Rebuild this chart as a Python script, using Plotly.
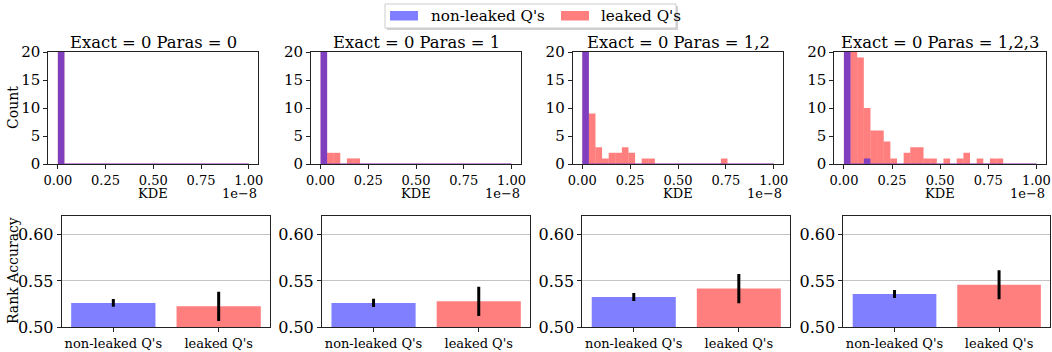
import numpy as np
import plotly.graph_objects as go

W, H = 1052, 352

# ---------------- data ----------------
titles = ["Exact = 0 Paras = 0", "Exact = 0 Paras = 1",
          "Exact = 0 Paras = 1,2", "Exact = 0 Paras = 1,2,3"]
n_bins = 29  # histogram bins over [0, 1] (x 1e-8)

nonleaked_p0 = [150] + [0] * 28
nonleaked_p1 = [150] + [0] * 28
nonleaked_p2 = [150] + [0] * 28
nonleaked_p3 = [150, 0, 0, 1] + [0] * 25

leaked_p0 = [30] + [0] * 28
leaked_p1 = [30, 2, 2, 0, 1, 1] + [0] * 23
leaked_p2 = [30, 9, 3, 1, 2, 2, 3, 2, 0, 1, 1] + [0] * 10 + [1] + [0] * 7
leaked_p3 = [30, 25, 19, 10, 6, 6, 4, 1, 0, 2, 3, 3, 1, 1, 0, 1, 0, 1, 2,
             0, 1, 0, 1, 1, 0, 0, 0, 0, 0]

nonleaked_hist = [nonleaked_p0, nonleaked_p1, nonleaked_p2, nonleaked_p3]
leaked_hist = [leaked_p0, leaked_p1, leaked_p2, leaked_p3]

categories = ["non-leaked Q's", "leaked Q's"]
acc_nonleaked = [0.5263, 0.5263, 0.5327, 0.5360]
acc_nonleaked_err = [0.0042, 0.0045, 0.0044, 0.0043]
acc_leaked = [0.5227, 0.5280, 0.5418, 0.5459]
acc_leaked_err = [0.0158, 0.0157, 0.0158, 0.0157]

x_ticks = [0, 0.25, 0.5, 0.75, 1.0]
count_ticks = [0, 5, 10, 15, 20]
acc_ticks = [0.50, 0.55, 0.60]

# ---------------- style ----------------
BLUE = "rgba(0,0,255,0.5)"
RED = "rgba(255,0,0,0.5)"
FONT = "DejaVu Serif"

top_x_px = [(48.3, 258.3), (311.0, 521.0), (572.7, 783.3), (834.3, 1046.0)]
bot_x_px = [(61.7, 270.3), (322.0, 530.3), (582.3, 790.3), (843.3, 1050.3)]
top_y_px = (52.0, 164.0)
bot_y_px = (215.7, 327.3)


def fx(p):
    return p / W


def fy(p):
    return 1 - p / H


edges = np.linspace(0, 1, n_bins + 1)
centers = (edges[:-1] + edges[1:]) / 2
bw = edges[1] - edges[0]

fig = go.Figure()
layout = dict(
    width=W, height=H, margin=dict(l=0, r=0, t=0, b=0, autoexpand=False),
    paper_bgcolor="white", plot_bgcolor="white",
    barmode="overlay", showlegend=False,
    font=dict(family=FONT, color="black"),
)

annotations = []
shapes = []

axis_common = dict(showline=True, mirror=True, linecolor="#222", linewidth=1,
                   ticks="outside", ticklen=4, tickwidth=1, tickcolor="#222",
                   zeroline=False, automargin=False)

for i in range(4):
    xa = f"x{2*i+1}"
    ya = f"y{2*i+1}"
    xb = f"x{2*i+2}"
    yb = f"y{2*i+2}"
    # histogram: red first, blue on top
    for counts, col in ((leaked_hist[i], RED), (nonleaked_hist[i], BLUE)):
        lw = [1.2 if c == 0 else 0 for c in counts]
        fig.add_trace(go.Bar(x=centers, y=counts, width=bw, xaxis=xa, yaxis=ya,
                             marker=dict(color=col, line=dict(color=col, width=lw))))
    # accuracy bars
    fig.add_trace(go.Bar(
        x=categories, y=[acc_nonleaked[i], acc_leaked[i]], width=0.8,
        xaxis=xb, yaxis=yb, marker=dict(color=[BLUE, RED], line=dict(width=0)),
        error_y=dict(type="data", array=[acc_nonleaked_err[i], acc_leaked_err[i]],
                     color="black", thickness=3, width=0)))

    n1 = "" if i == 0 else str(2*i+1)
    n2 = str(2*i+2)
    layout["xaxis" + n1] = dict(
        axis_common, domain=[fx(top_x_px[i][0]), fx(top_x_px[i][1])],
        anchor=ya, range=[-0.05, 1.05], tickvals=x_ticks,
        ticktext=[f"{v:.2f}" for v in x_ticks], showgrid=False,
        tickfont=dict(size=13), layer="below traces")
    layout["yaxis" + n1] = dict(
        axis_common, domain=[fy(top_y_px[1]), fy(top_y_px[0])],
        anchor=xa, range=[0, 20], tickvals=count_ticks, showgrid=False,
        tickfont=dict(size=15))
    layout["xaxis" + n2] = dict(
        axis_common, domain=[fx(bot_x_px[i][0]), fx(bot_x_px[i][1])],
        anchor=yb, type="category", range=[-0.49, 1.49], showgrid=False,
        tickfont=dict(size=13))
    layout["yaxis" + n2] = dict(
        axis_common, domain=[fy(bot_y_px[1]), fy(bot_y_px[0])],
        anchor=xb, range=[0.5, 0.6205], tickvals=acc_ticks,
        ticktext=[f"{v:.2f}" for v in acc_ticks], showgrid=True,
        gridcolor="#c4c4c4", gridwidth=1, tickfont=dict(size=16))

    cx = fx((top_x_px[i][0] + top_x_px[i][1]) / 2)
    annotations.append(dict(text=titles[i], x=cx, y=fy(42), xref="paper", yref="paper",
                            showarrow=False, xanchor="center", yanchor="middle",
                            font=dict(size=16.4)))
    annotations.append(dict(text="KDE", x=cx, y=fy(193), xref="paper", yref="paper",
                            showarrow=False, xanchor="center", yanchor="middle",
                            font=dict(size=13)))
    annotations.append(dict(text="1e\u22128", x=fx(top_x_px[i][1] + 1), y=fy(193),
                            xref="paper", yref="paper", showarrow=False,
                            xanchor="right", yanchor="middle", font=dict(size=13)))

annotations.append(dict(text="Count", x=fx(13), y=fy(108), xref="paper", yref="paper",
                        showarrow=False, textangle=-90, xanchor="center",
                        yanchor="middle", font=dict(size=14)))
annotations.append(dict(text="Rank Accuracy", x=fx(13), y=fy(271), xref="paper",
                        yref="paper", showarrow=False, textangle=-90,
                        xanchor="center", yanchor="middle", font=dict(size=14)))

# legend (drawn manually to match the wide matplotlib patches)
lx0, lx1, ly0, ly1 = 385, 676, 4, 28
shapes.append(dict(type="rect", xref="paper", yref="paper",
                   x0=fx(lx0 + 2), x1=fx(lx1 + 2), y0=fy(ly1 + 2), y1=fy(ly0 + 2),
                   fillcolor="rgba(0,0,0,0.18)", line=dict(width=0)))
shapes.append(dict(type="rect", xref="paper", yref="paper",
                   x0=fx(lx0), x1=fx(lx1), y0=fy(ly1), y1=fy(ly0),
                   fillcolor="white", line=dict(color="#cccccc", width=1)))
for (px0, px1, col, tx, label) in ((390, 418, BLUE, 429, categories[0]),
                                   (561, 589, RED, 599, categories[1])):
    shapes.append(dict(type="rect", xref="paper", yref="paper",
                       x0=fx(px0), x1=fx(px1), y0=fy(20.5), y1=fy(11),
                       fillcolor=col, line=dict(width=0)))
    annotations.append(dict(text=label, x=fx(tx), y=fy(16), xref="paper", yref="paper",
                            showarrow=False, xanchor="left", yanchor="middle",
                            font=dict(size=15.2)))

layout["annotations"] = annotations
layout["shapes"] = shapes
fig.update_layout(**layout)
fig.write_html("out.html", config={"displayModeBar": False},
               post_script="document.body.style.margin='0px';"
                           "document.body.style.overflow='hidden';")
